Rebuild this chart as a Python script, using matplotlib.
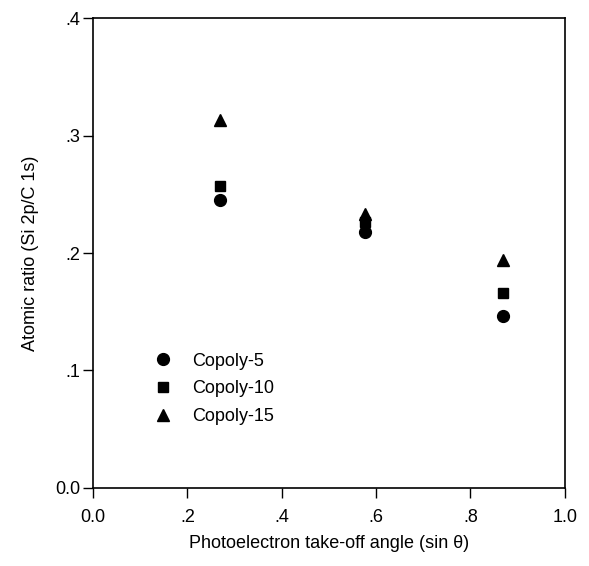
import matplotlib
matplotlib.use('Agg')
import matplotlib.pyplot as plt
from matplotlib.ticker import FuncFormatter

plt.rcParams['font.family'] = ['Liberation Sans', 'DejaVu Sans']

# data
angle = [0.268, 0.577, 0.869]
copoly5 = [0.245, 0.218, 0.146]
copoly10 = [0.257, 0.226, 0.166]
copoly15 = [0.313, 0.233, 0.194]

series_names = ['Copoly-5', 'Copoly-10', 'Copoly-15']
x_ticks = [0.0, 0.2, 0.4, 0.6, 0.8, 1.0]
y_ticks = [0.0, 0.1, 0.2, 0.3, 0.4]


def fmt(v, pos):
    if abs(v) < 1e-9:
        return '0.0'
    if abs(v - 1.0) < 1e-9:
        return '1.0'
    return ('%.1f' % v).lstrip('0')


fig = plt.figure(figsize=(5.89, 5.66), dpi=100, facecolor='white')
ax = fig.add_axes([0.158, 0.138, 0.801, 0.830])

ax.plot(angle, copoly5, 'o', color='black', markersize=8.5, label=series_names[0])
ax.plot(angle, copoly10, 's', color='black', markersize=7, label=series_names[1])
ax.plot(angle, copoly15, '^', color='black', markersize=8, label=series_names[2])

ax.set_xlim(0, 1.0)
ax.set_ylim(0, 0.4)
ax.set_xticks(x_ticks)
ax.set_yticks(y_ticks)
ax.xaxis.set_major_formatter(FuncFormatter(fmt))
ax.yaxis.set_major_formatter(FuncFormatter(fmt))
ax.tick_params(direction='out', length=7, width=1, labelsize=13)
ax.tick_params(axis='x', pad=8)
ax.tick_params(axis='y', pad=2)

for s in ax.spines.values():
    s.set_linewidth(1.2)

ax.set_xlabel('Photoelectron take-off angle (sin \u03b8)', fontsize=13, labelpad=7)
ax.set_ylabel('Atomic ratio (Si 2p/C 1s)', fontsize=13, labelpad=12)

ax.legend(loc='lower left', bbox_to_anchor=(0.11, 0.118), frameon=False,
          fontsize=13, handletextpad=1.0, labelspacing=0.6, borderaxespad=0,
          handlelength=1.2)

plt.savefig('out.png', dpi=100)
